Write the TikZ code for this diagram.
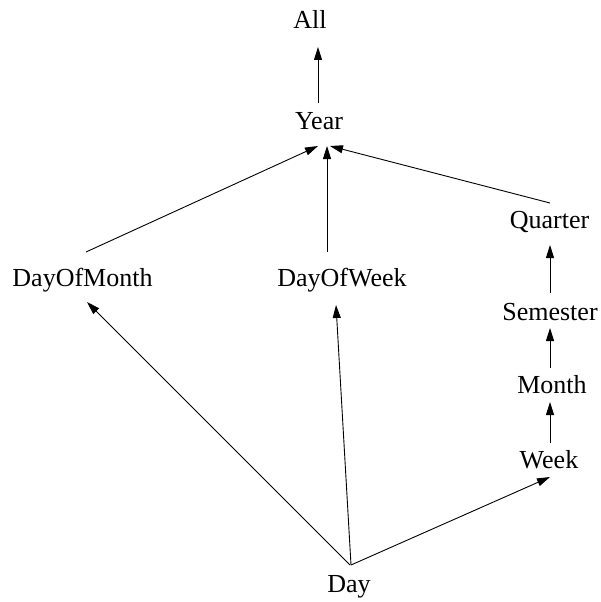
\documentclass[tikz,border=0pt]{standalone}
\usepackage{fontspec}
\setmainfont{Liberation Serif}
\usetikzlibrary{arrows.meta,calc}
\tikzset{
  lvl/.style={anchor=base, inner sep=0pt, font=\fontsize{26}{30}\selectfont},
  edge/.style={line width=0.9pt, -{Triangle[length=13pt,width=8pt]}}
}
\begin{document}
\begin{tikzpicture}[x=1pt,y=-1pt]
  \useasboundingbox (0,0) rectangle (601,602);
  % hierarchy levels (positions are text baselines)
  \node[lvl] (all)  at (310,29)   {All};
  \node[lvl] (year) at (319,129)  {Year};
  \node[lvl] (dom)  at (82.5,286) {DayOfMonth};
  \node[lvl] (dow)  at (342,286)  {DayOfWeek};
  \node[lvl] (qtr)  at (549.5,228){Quarter};
  \node[lvl] (sem)  at (550,320)  {Semester};
  \node[lvl] (mon)  at (552,393)  {Month};
  \node[lvl] (week) at (549,468)  {Week};
  \node[lvl] (day)  at (349,592)  {Day};
  % roll-up edges
  \draw[edge] ($(year.base)+(-1,-26)$) -- ($(all.base)+(8,18)$);
  \draw[edge] ($(dom.base)+(3.5,-34)$) -- ($(year.base)+(-1,17)$);
  \draw[edge] ($(dow.base)+(-15,-34)$) -- ($(year.base)+(8,17)$);
  \draw[edge] ($(qtr.base)+(0.5,-25)$) -- ($(year.base)+(11,17)$);
  \draw[edge] ($(sem.base)+(0,-27)$) -- ($(qtr.base)+(0.5,17)$);
  \draw[edge] ($(mon.base)+(-2,-25)$) -- ($(sem.base)+(0,8)$);
  \draw[edge] ($(week.base)+(1,-25)$) -- ($(mon.base)+(-2,9)$);
  \draw[edge] ($(day.base)+(1,-27)$) -- ($(dom.base)+(4.5,16)$);
  \draw[edge] ($(day.base)+(2,-27)$) -- ($(dow.base)+(-6,19)$);
  \draw[edge] ($(day.base)+(2,-27)$) -- ($(week.base)+(1,9)$);
\end{tikzpicture}
\end{document}
